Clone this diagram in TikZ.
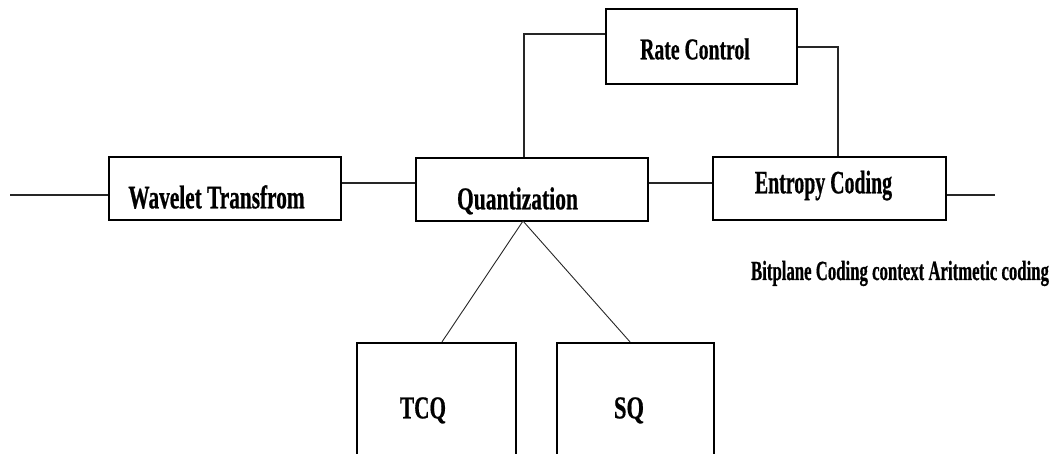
\documentclass[tikz,border=0pt]{standalone}
\usepackage{fontspec}
\setmainfont{Liberation Serif}
\newfontfamily\labelfont[FakeBold=0.8]{Liberation Serif Bold}
\usepackage{graphicx}
\usetikzlibrary{calc}
% narrow heavy label: #1 horizontal scale, #2 font size (pt), #3 text
\newcommand\condlabel[3]{\scalebox{#1}[1]{\fontsize{#2pt}{#2pt}\labelfont #3}}
\begin{document}
\begin{tikzpicture}[x=1pt,y=-1pt,
  block/.style={draw=black, line width=2.2pt, rectangle, inner sep=0pt},
  wire/.style={draw=black!85, line width=1.1pt},
  lbl/.style={inner sep=0pt, anchor=base}]
\useasboundingbox (0,0) rectangle (1055,454);
\clip (0,0) rectangle (1055,454);

% blocks
\node[block, minimum width=232pt, minimum height=63pt] (wav)   at (225,188.5) {};
\node[block, minimum width=232pt, minimum height=63pt] (quant) at (532,189.5) {};
\node[block, minimum width=191pt, minimum height=75pt] (rate)  at (701.5,46.5) {};
\node[block, minimum width=233pt, minimum height=63pt] (ent)   at (829.5,188.5) {};
\node[block, minimum width=159pt, minimum height=127pt] (tcq)  at (436.5,406.5) {};
\node[block, minimum width=157pt, minimum height=127pt] (sq)   at (635.5,406.5) {};

% labels
\node[lbl] (twav)   at (216.5,208.3) {\condlabel{0.65}{32.8}{Wavelet Transfrom}};
\node[lbl] (tquant) at (517.5,209.3) {\condlabel{0.68}{31.7}{Quantization}};
\node[lbl] (trate)  at (695,59.3)    {\condlabel{0.652}{30.2}{Rate Control}};
\node[lbl] (tent)   at (823.5,193.3) {\condlabel{0.61}{32.6}{Entropy Coding}};
\node[lbl] (tbit)   at (900,280)     {\condlabel{0.605}{27.7}{Bitplane Coding context Aritmetic coding}};
\node[lbl] (ttcq)   at (423,418.3)   {\condlabel{0.67}{31.7}{TCQ}};
\node[lbl] (tsq)    at (629,418.3)   {\condlabel{0.71}{31.7}{SQ}};

% signal path
\coordinate (in) at (10,195);
\coordinate (out) at (995,195);
\draw[wire] (in) -- (in -| wav.west);
\draw[wire] (wav.east |- 0,183) -- (quant.west |- 0,183);
\draw[wire] (quant.east |- 0,183) -- (ent.west |- 0,183);
\draw[wire] (ent.east |- out) -- (out);

% rate control loop
\draw[wire] (rate.west |- 0,34) -| (quant.north -| 524,0);
\draw[wire] (rate.east |- 0,47) -| (ent.north -| 838,0);

% quantizer variants
\coordinate (qb) at (523,221);
\draw[wire, line width=0.9pt] (qb) -- (tcq.north -| 442,0);
\draw[wire, line width=0.9pt] (qb) -- (sq.north -| 630,0);
\end{tikzpicture}
\end{document}
